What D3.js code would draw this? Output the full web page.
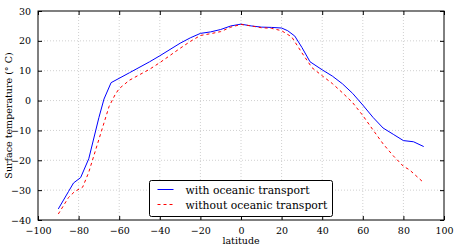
<!DOCTYPE html>
<html>
<head>
<meta charset="utf-8">
<script src="https://cdn.jsdelivr.net/npm/d3@7"></script>
<style>
  body { margin: 0; background: #fff; }
  text { font-family: "DejaVu Serif", serif; }
</style>
</head>
<body>
<script>
// values
var latWith = [-90, -85, -82.5, -79, -75, -70, -67.5, -64, -55, -45, -40, -30, -25, -20, -15, -10, -5, 0, 5, 10, 15, 20, 23, 26.5, 30, 34, 40, 45, 50, 55, 60, 65, 70, 75, 80, 85, 90];
var tempWith = [-36.3, -30.5, -27.6, -25.8, -19.5, -5.7, 0.5, 6.0, 9.3, 13.0, 15.0, 19.2, 21.0, 22.5, 23.0, 23.8, 25.0, 25.6, 25.0, 24.6, 24.5, 24.3, 23.4, 21.6, 17.8, 13.0, 10.3, 8.2, 5.6, 2.4, -1.5, -5.6, -9.2, -11.3, -13.4, -13.8, -15.4];

var latWithout = [-90, -85, -82, -78, -75, -70, -65, -62, -60, -55, -45, -40, -30, -25, -20, -15, -10, -5, 0, 5, 10, 15, 20, 25, 30, 35, 40, 45, 50, 55, 60, 65, 70, 75, 80, 83, 90];
var tempWithout = [-38.0, -32.5, -30.5, -29.0, -24.0, -13.0, -2.0, 2.0, 4.0, 6.8, 10.5, 12.7, 17.5, 19.8, 21.8, 22.4, 23.1, 24.6, 25.5, 25.0, 24.4, 24.2, 23.4, 21.3, 16.0, 11.0, 8.3, 5.7, 2.6, -0.7, -5.0, -9.8, -14.5, -18.5, -22.0, -23.2, -27.5];

var xTicks = [-100, -80, -60, -40, -20, 0, 20, 40, 60, 80, 100];
var yTicks = [-40, -30, -20, -10, 0, 10, 20, 30];
var seriesNames = ["with oceanic transport", "without oceanic transport"];

var W = 460, H = 250;
var m = {top: 11, right: 16, bottom: 30, left: 38};
var w = W - m.left - m.right, h = H - m.top - m.bottom;

var svg = d3.select("body").append("svg")
  .attr("width", W).attr("height", H);
var g = svg.append("g").attr("transform", `translate(${m.left},${m.top})`);

var x = d3.scaleLinear().domain([-100, 100]).range([0, w]);
var y = d3.scaleLinear().domain([-40, 30]).range([h, 0]);

var fmt = d => d3.format("d")(d).replace("-", "\u2212");

// grid
g.append("g").selectAll("line").data(xTicks.slice(1, -1)).enter().append("line")
  .attr("x1", d => x(d)).attr("x2", d => x(d)).attr("y1", 0).attr("y2", h)
  .attr("stroke", "#d0d0d0").attr("stroke-dasharray", "1,2");
g.append("g").selectAll("line").data(yTicks.slice(1, -1)).enter().append("line")
  .attr("y1", d => y(d)).attr("y2", d => y(d)).attr("x1", 0).attr("x2", w)
  .attr("stroke", "#d0d0d0").attr("stroke-dasharray", "1,2");

// axes, ticks pointing inward
function styleAxis(sel) {
  sel.select(".domain").remove();
  sel.selectAll("line").attr("stroke", "#000");
  sel.selectAll("text").attr("font-size", 9.5).attr("fill", "#000");
}
g.append("g").attr("transform", `translate(0,${h})`)
  .call(d3.axisBottom(x).tickValues(xTicks).tickFormat(fmt).tickSizeInner(-4).tickPadding(7))
  .call(styleAxis);
g.append("g")
  .call(d3.axisTop(x).tickValues(xTicks).tickSizeInner(-4).tickFormat(""))
  .call(styleAxis);
g.append("g")
  .call(d3.axisLeft(y).tickValues(yTicks).tickFormat(fmt).tickSizeInner(-4).tickPadding(7))
  .call(styleAxis);
g.append("g").attr("transform", `translate(${w},0)`)
  .call(d3.axisRight(y).tickValues(yTicks).tickSizeInner(-4).tickFormat(""))
  .call(styleAxis);

g.append("rect").attr("width", w).attr("height", h)
  .attr("fill", "none").attr("stroke", "#000").attr("stroke-width", 1);

// lines
var line = d3.line().x(d => x(d[0])).y(d => y(d[1]));
g.append("path")
  .datum(d3.zip(latWith, tempWith))
  .attr("d", line).attr("fill", "none")
  .attr("stroke", "#0000ff").attr("stroke-width", 1);
g.append("path")
  .datum(d3.zip(latWithout, tempWithout))
  .attr("d", line).attr("fill", "none")
  .attr("stroke", "#ff0000").attr("stroke-width", 1).attr("stroke-dasharray", "3,3");

// axis labels
svg.append("text").attr("x", m.left + w / 2).attr("y", 244)
  .attr("text-anchor", "middle").attr("font-size", 9.5).text("latitude");
svg.append("text")
  .attr("transform", `translate(12,${m.top + h / 2}) rotate(-90)`)
  .attr("text-anchor", "middle").attr("font-size", 9.5)
  .text("Surface temperature (\u00b0 C)");

// legend
var lg = svg.append("g").attr("transform", "translate(149.5,180.5)");
lg.append("rect").attr("width", 183).attr("height", 36).attr("rx", 2)
  .attr("fill", "#fff").attr("stroke", "#000").attr("stroke-width", 1);
var colors = ["#0000ff", "#ff0000"];
var dashes = [null, "3,3"];
seriesNames.forEach(function(name, i) {
  var yy = 9 + i * 15;
  lg.append("line").attr("x1", 8).attr("x2", 24).attr("y1", yy).attr("y2", yy)
    .attr("stroke", colors[i]).attr("stroke-width", 1).attr("stroke-dasharray", dashes[i]);
  lg.append("text").attr("x", 36).attr("y", yy + 4).attr("font-size", 10.8).text(name);
});
</script>
</body>
</html>
